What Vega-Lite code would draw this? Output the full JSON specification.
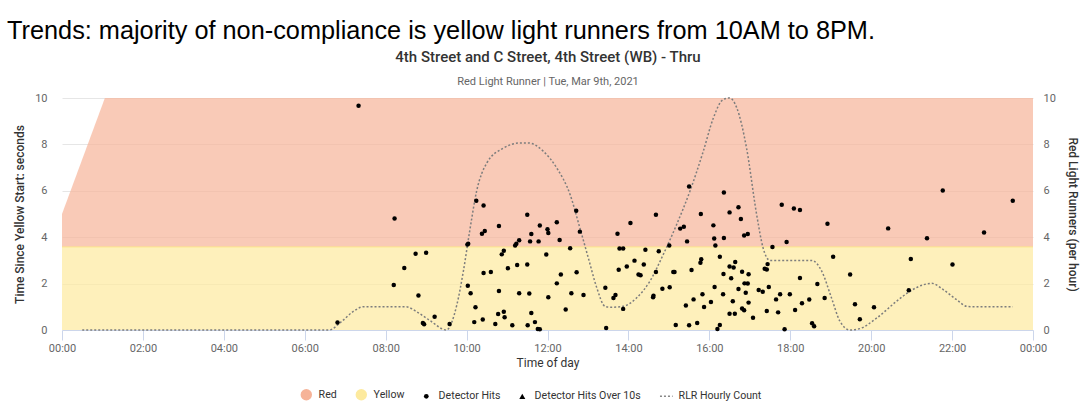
{
  "$schema": "https://vega.github.io/schema/vega-lite/v6.json",
  "width": 971,
  "height": 232,
  "autosize": {"type": "none"},
  "padding": {"left": 62, "top": 98, "right": 57, "bottom": 83},
  "background": "white",
  "config": {"view": {"stroke": null}, "font": "Roboto"},
  "title": {
    "text": "Trends: majority of non-compliance is yellow light runners from 10AM to 8PM.",
    "anchor": "start",
    "frame": "group",
    "dx": -55,
    "offset": 5,
    "font": "Liberation Sans",
    "fontSize": 25.3,
    "fontWeight": "normal",
    "color": "#000000"
  },
  "datasets": {
    "band": [
      {"h": 0, "red": 5, "yellow": 3.58},
      {"h": 1.06, "red": 10, "yellow": 3.58},
      {"h": 24, "red": 10, "yellow": 3.58}
    ],
    "rlr": [
      {"h": 0.5, "c": 0}, {"h": 6.6, "c": 0}, {"h": 6.9, "c": 0.35}, {"h": 7.2, "c": 0.8}, {"h": 7.45, "c": 1},
      {"h": 8.5, "c": 1}, {"h": 8.8, "c": 0.75}, {"h": 9.1, "c": 0.4}, {"h": 9.5, "c": 0}, {"h": 9.76, "c": 1.09},
      {"h": 9.92, "c": 2.53}, {"h": 10.08, "c": 4.3}, {"h": 10.25, "c": 6.0}, {"h": 10.5, "c": 7.2}, {"h": 10.91, "c": 7.84},
      {"h": 11.32, "c": 8.06}, {"h": 11.53, "c": 8.06}, {"h": 11.9, "c": 7.7}, {"h": 12.23, "c": 6.98}, {"h": 12.56, "c": 5.83},
      {"h": 12.8, "c": 4.4}, {"h": 13.01, "c": 3.1}, {"h": 13.22, "c": 1.81}, {"h": 13.42, "c": 1.02}, {"h": 13.55, "c": 0.98},
      {"h": 13.87, "c": 1.02}, {"h": 14.2, "c": 1.38}, {"h": 14.53, "c": 2.1}, {"h": 14.86, "c": 3.25}, {"h": 15.19, "c": 4.54},
      {"h": 15.52, "c": 5.98}, {"h": 15.85, "c": 7.7}, {"h": 16.1, "c": 9.14}, {"h": 16.34, "c": 9.93}, {"h": 16.5, "c": 10},
      {"h": 16.68, "c": 9.57}, {"h": 16.92, "c": 7.84}, {"h": 17.17, "c": 4.97}, {"h": 17.33, "c": 3.53}, {"h": 17.5, "c": 3},
      {"h": 18.53, "c": 3}, {"h": 18.78, "c": 2.53}, {"h": 19.02, "c": 1.38}, {"h": 19.23, "c": 0.37}, {"h": 19.48, "c": 0},
      {"h": 19.72, "c": 0.06}, {"h": 20.14, "c": 0.52}, {"h": 20.63, "c": 1.24}, {"h": 20.96, "c": 1.67}, {"h": 21.29, "c": 1.95},
      {"h": 21.5, "c": 2.01}, {"h": 21.78, "c": 1.74}, {"h": 22.11, "c": 1.31}, {"h": 22.36, "c": 1.02}, {"h": 22.53, "c": 1},
      {"h": 23.5, "c": 1}
    ],
    "hits": [
      {"h": 6.81, "v": 0.32}, {"h": 7.33, "v": 9.67}, {"h": 8.22, "v": 4.81}, {"h": 8.74, "v": 3.29}, {"h": 9.0, "v": 3.33},
      {"h": 8.46, "v": 2.67}, {"h": 8.2, "v": 1.94}, {"h": 8.81, "v": 1.49}, {"h": 9.21, "v": 0.57}, {"h": 8.92, "v": 0.3},
      {"h": 8.95, "v": 0.25}, {"h": 9.58, "v": 0.26}, {"h": 10.24, "v": 5.57}, {"h": 10.02, "v": 3.68}, {"h": 10.04, "v": 3.72},
      {"h": 10.03, "v": 1.91}, {"h": 10.1, "v": 1.58}, {"h": 10.22, "v": 0.98}, {"h": 10.19, "v": 0.34},
      {"h": 10.42, "v": 5.37}, {"h": 10.38, "v": 4.15}, {"h": 10.45, "v": 4.27}, {"h": 10.8, "v": 4.48}, {"h": 11.5, "v": 4.97},
      {"h": 11.2, "v": 3.64}, {"h": 11.23, "v": 3.72}, {"h": 11.3, "v": 3.87}, {"h": 11.57, "v": 3.82}, {"h": 11.6, "v": 4.14},
      {"h": 11.78, "v": 3.82}, {"h": 11.81, "v": 4.5}, {"h": 12.0, "v": 4.34}, {"h": 12.02, "v": 4.18}, {"h": 12.23, "v": 4.64},
      {"h": 12.3, "v": 3.88}, {"h": 12.71, "v": 5.14}, {"h": 12.8, "v": 4.24}, {"h": 13.73, "v": 4.15}, {"h": 10.87, "v": 3.26},
      {"h": 10.92, "v": 3.42}, {"h": 11.97, "v": 3.25}, {"h": 12.56, "v": 3.52}, {"h": 10.42, "v": 2.46}, {"h": 10.6, "v": 2.5},
      {"h": 11.02, "v": 2.66}, {"h": 11.25, "v": 2.8}, {"h": 11.5, "v": 2.82}, {"h": 12.33, "v": 2.39}, {"h": 12.72, "v": 2.49},
      {"h": 12.23, "v": 2.01}, {"h": 10.8, "v": 1.68}, {"h": 11.3, "v": 1.58}, {"h": 11.55, "v": 1.57}, {"h": 12.02, "v": 1.41},
      {"h": 12.59, "v": 1.58}, {"h": 12.89, "v": 1.51}, {"h": 13.43, "v": 1.82}, {"h": 13.63, "v": 1.38}, {"h": 13.68, "v": 1.51},
      {"h": 10.92, "v": 0.79}, {"h": 10.94, "v": 0.55}, {"h": 10.78, "v": 0.69}, {"h": 11.6, "v": 0.73}, {"h": 12.45, "v": 0.88},
      {"h": 10.4, "v": 0.45}, {"h": 10.71, "v": 0.26}, {"h": 11.13, "v": 0.2}, {"h": 11.51, "v": 0.2}, {"h": 11.69, "v": 0.34},
      {"h": 11.76, "v": 0.04}, {"h": 11.81, "v": 0.03}, {"h": 13.45, "v": 0.09},
      {"h": 13.78, "v": 3.51}, {"h": 13.87, "v": 3.51}, {"h": 14.05, "v": 4.61}, {"h": 14.68, "v": 4.97}, {"h": 14.42, "v": 3.46},
      {"h": 14.75, "v": 3.39}, {"h": 15.01, "v": 3.64}, {"h": 15.28, "v": 4.37}, {"h": 15.37, "v": 4.45}, {"h": 15.45, "v": 3.82},
      {"h": 15.5, "v": 6.19}, {"h": 15.79, "v": 5.0}, {"h": 16.1, "v": 4.51}, {"h": 16.12, "v": 3.94}, {"h": 16.15, "v": 3.64},
      {"h": 16.36, "v": 5.93}, {"h": 16.36, "v": 3.97}, {"h": 16.5, "v": 5.07}, {"h": 16.72, "v": 5.29}, {"h": 16.78, "v": 4.78},
      {"h": 16.86, "v": 4.07}, {"h": 16.95, "v": 4.14}, {"h": 13.76, "v": 2.6}, {"h": 13.96, "v": 2.74}, {"h": 14.15, "v": 2.99},
      {"h": 14.25, "v": 2.39}, {"h": 14.3, "v": 2.36}, {"h": 14.38, "v": 2.82}, {"h": 14.68, "v": 2.5}, {"h": 15.11, "v": 2.5},
      {"h": 15.14, "v": 2.5}, {"h": 15.56, "v": 2.59}, {"h": 15.78, "v": 2.9}, {"h": 15.8, "v": 3.05}, {"h": 16.26, "v": 3.16},
      {"h": 16.35, "v": 2.41}, {"h": 16.5, "v": 2.74}, {"h": 16.6, "v": 2.69}, {"h": 16.64, "v": 2.93}, {"h": 16.54, "v": 2.23},
      {"h": 16.81, "v": 2.51}, {"h": 16.97, "v": 2.4}, {"h": 16.87, "v": 2.01}, {"h": 16.95, "v": 2.0}, {"h": 17.22, "v": 1.72},
      {"h": 14.84, "v": 1.78}, {"h": 15.02, "v": 1.84}, {"h": 14.61, "v": 1.41}, {"h": 14.62, "v": 1.48}, {"h": 13.87, "v": 0.91},
      {"h": 15.42, "v": 1.06}, {"h": 15.61, "v": 1.32}, {"h": 15.83, "v": 1.54}, {"h": 15.87, "v": 0.99}, {"h": 16.04, "v": 1.21},
      {"h": 16.13, "v": 1.85}, {"h": 16.34, "v": 1.54}, {"h": 16.58, "v": 1.24}, {"h": 16.72, "v": 1.77}, {"h": 16.9, "v": 1.61},
      {"h": 16.97, "v": 1.18}, {"h": 16.81, "v": 0.93}, {"h": 16.86, "v": 0.85}, {"h": 16.5, "v": 0.7}, {"h": 16.63, "v": 0.7},
      {"h": 17.08, "v": 0.53}, {"h": 15.17, "v": 0.22}, {"h": 15.5, "v": 0.2}, {"h": 15.7, "v": 0.3}, {"h": 16.2, "v": 0.04},
      {"h": 16.26, "v": 0.22},
      {"h": 17.79, "v": 5.4}, {"h": 18.09, "v": 5.24}, {"h": 18.24, "v": 5.17}, {"h": 18.92, "v": 4.58}, {"h": 20.42, "v": 4.38},
      {"h": 17.91, "v": 3.79}, {"h": 17.56, "v": 3.58}, {"h": 19.06, "v": 3.16}, {"h": 17.44, "v": 2.84}, {"h": 17.37, "v": 2.64},
      {"h": 17.42, "v": 2.61}, {"h": 18.24, "v": 2.24}, {"h": 19.48, "v": 2.39}, {"h": 18.67, "v": 1.98}, {"h": 17.32, "v": 1.65},
      {"h": 17.47, "v": 1.85}, {"h": 17.65, "v": 1.32}, {"h": 17.75, "v": 1.54}, {"h": 17.99, "v": 1.54}, {"h": 18.29, "v": 1.15},
      {"h": 18.47, "v": 1.31}, {"h": 18.85, "v": 1.38}, {"h": 19.6, "v": 1.11}, {"h": 20.07, "v": 0.98}, {"h": 17.42, "v": 0.82},
      {"h": 17.7, "v": 0.76}, {"h": 18.12, "v": 0.86}, {"h": 19.72, "v": 0.46}, {"h": 18.54, "v": 0.29}, {"h": 18.59, "v": 0.16},
      {"h": 17.86, "v": 0.03},
      {"h": 21.77, "v": 6.01}, {"h": 23.5, "v": 5.57}, {"h": 21.38, "v": 3.95}, {"h": 22.79, "v": 4.2}, {"h": 20.98, "v": 3.06},
      {"h": 22.01, "v": 2.82}, {"h": 20.93, "v": 1.71}
    ]
  },
  "layer": [
    {
      "data": {"name": "band"},
      "mark": {"type": "area", "color": "#f6b398", "opacity": 0.7},
      "encoding": {
        "x": {
          "field": "h", "type": "quantitative",
          "scale": {"domain": [0, 24], "nice": false, "zero": false},
          "axis": {
            "orient": "top", "values": [12],
            "labelExpr": "'Red Light Runner | Tue, Mar 9th, 2021'",
            "labelFlush": false, "labelOverlap": false, "labelBound": false, "labelLimit": 0,
            "labelColor": "#666666", "labelFontSize": 11, "labelFont": "Roboto", "labelPadding": 12,
            "ticks": false, "domain": false, "grid": false,
            "title": "4th Street and C Street, 4th Street (WB) - Thru",
            "titleX": 485.5, "titleY": -37, "titleAlign": "center", "titleBaseline": "alphabetic",
            "titleFontSize": 15, "titleFontWeight": 500, "titleColor": "#333333", "titleFont": "Roboto",
            "titleLimit": 0
          }
        },
        "y": {"field": "red", "type": "quantitative", "scale": {"domain": [0, 10], "nice": false}, "axis": null},
        "y2": {"field": "yellow"}
      }
    },
    {
      "data": {"name": "band"},
      "mark": {"type": "area", "color": "#fdea9e", "opacity": 0.7, "line": {"color": "#fde58c", "strokeWidth": 1}},
      "encoding": {
        "x": {"field": "h", "type": "quantitative", "axis": null},
        "y": {"field": "yellow", "type": "quantitative", "axis": null},
        "y2": {"datum": 0}
      }
    },
    {
      "data": {"name": "rlr"},
      "mark": {"type": "line", "interpolate": "monotone", "color": "#7d7d7d", "strokeWidth": 1.5, "strokeDash": [2, 2]},
      "encoding": {
        "x": {"field": "h", "type": "quantitative", "axis": null},
        "y": {
          "field": "c", "type": "quantitative",
          "axis": {
            "orient": "right", "values": [0, 2, 4, 6, 8, 10],
            "grid": false, "domain": false, "ticks": false,
            "labelPadding": 10, "labelColor": "#666666", "labelFontSize": 11,
            "title": "Red Light Runners (per hour)", "titleColor": "#333333", "titleFontSize": 12,
            "titleFontWeight": 500, "titlePadding": 10
          }
        }
      }
    },
    {
      "data": {"name": "hits"},
      "mark": {"type": "point", "filled": true, "size": 20, "opacity": 1},
      "encoding": {
        "x": {
          "field": "h", "type": "quantitative",
          "axis": {
            "orient": "bottom", "values": [0, 2, 4, 6, 8, 10, 12, 14, 16, 18, 20, 22, 24],
            "labelExpr": "(datum.value % 24 < 10 ? '0' : '') + (datum.value % 24) + ':00'",
            "labelFlush": false, "labelColor": "#666666", "labelFontSize": 11, "labelPadding": 2,
            "tickColor": "#ccd6eb", "tickSize": 10, "domainColor": "#ccd6eb", "grid": false,
            "title": "Time of day", "titleColor": "#333333", "titleFontSize": 12, "titleFontWeight": "normal",
            "titlePadding": 4
          }
        },
        "y": {
          "field": "v", "type": "quantitative",
          "axis": {
            "orient": "left", "values": [0, 2, 4, 6, 8, 10],
            "grid": true, "gridColor": "#e6e6e6", "domain": false, "ticks": false,
            "labelPadding": 15, "labelColor": "#666666", "labelFontSize": 11,
            "title": "Time Since Yellow Start: seconds", "titleColor": "#333333", "titleFontSize": 12,
            "titleFontWeight": 500, "titlePadding": 8
          }
        },
        "color": {
          "datum": "Detector Hits", "type": "nominal",
          "scale": {
            "domain": ["Red", "Yellow", "Detector Hits", "Detector Hits Over 10s", "RLR Hourly Count"],
            "range": ["#f6b398", "#fdea9e", "#000000", "#000000", "#888888"]
          },
          "legend": {
            "orient": "none", "legendX": 239, "legendY": 291, "direction": "horizontal", "columns": 5,
            "title": null, "symbolSize": 130, "labelFontSize": 10.6, "labelColor": "#333333", "labelFont": "Roboto",
            "labelOffset": 7, "columnPadding": 15, "symbolOpacity": 1,
            "encode": {
              "symbols": {
                "update": {
                  "shape": {"signal": "datum.value === 'Detector Hits Over 10s' ? 'triangle-up' : datum.value === 'RLR Hourly Count' ? 'stroke' : 'circle'"},
                  "size": {"signal": "datum.value === 'Red' || datum.value === 'Yellow' ? 130 : datum.value === 'RLR Hourly Count' ? 160 : datum.value === 'Detector Hits' ? 22 : 36"},
                  "stroke": {"signal": "datum.value === 'RLR Hourly Count' ? '#888888' : 'transparent'"},
                  "strokeWidth": {"value": 1.5},
                  "strokeDash": {"signal": "datum.value === 'RLR Hourly Count' ? [2, 2] : [1, 0]"}
                }
              }
            }
          }
        }
      }
    }
  ],
  "resolve": {"axis": {"x": "independent", "y": "independent"}}
}
